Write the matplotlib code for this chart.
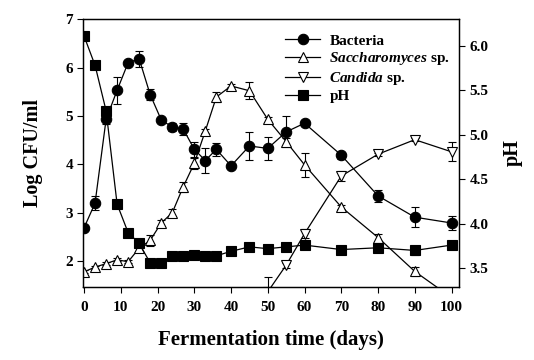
import numpy as np
import matplotlib.pyplot as plt
from matplotlib.lines import Line2D

plt.rcParams['font.family'] = 'Liberation Serif'
plt.rcParams['font.weight'] = 'bold'
plt.rcParams['mathtext.fontset'] = 'custom'
plt.rcParams['mathtext.it'] = 'Liberation Serif:italic:bold'
plt.rcParams['mathtext.rm'] = 'Liberation Serif:bold'

# dias de fermentacion
dias = [0, 3, 6, 9, 12, 15, 18, 21, 24, 27, 30, 33, 36, 40, 45, 50, 55, 60, 70, 80, 90, 100]

# Log CFU/ml
bacterias = [2.69, 3.20, 4.93, 5.53, 6.10, 6.18, 5.44, 4.92, 4.77, 4.73, 4.31, 4.08,
             4.31, 3.97, 4.38, 4.33, 4.67, 4.85, 4.19, 3.35, 2.91, 2.79]
bacterias_err = [0.05, 0.15, 0.1, 0.28, 0.05, 0.16, 0.12, 0.05, 0.08, 0.13, 0.15, 0.26,
                 0.13, 0.05, 0.28, 0.23, 0.32, 0.06, 0.07, 0.12, 0.2, 0.15]

sacch = [1.78, 1.88, 1.95, 2.03, 1.99, 2.27, 2.43, 2.79, 3.00, 3.54, 4.02, 4.69,
         5.39, 5.62, 5.52, 4.93, 4.47, 3.99, 3.12, 2.49, 1.79, 1.25]
sacch_err = [0.03, 0.03, 0.03, 0.03, 0.03, 0.05, 0.12, 0.07, 0.07, 0.1, 0.12, 0.05,
             0.1, 0.03, 0.18, 0.05, 0.07, 0.25, 0.05, 0.07, 0.1, 0.1]

dias_candida = [50, 55, 60, 70, 80, 90, 100]
candida = [1.37, 1.92, 2.57, 3.76, 4.21, 4.51, 4.26]
candida_err = [0.31, 0.05, 0.1, 0.1, 0.03, 0.03, 0.2]

# pH
ph = [6.11, 5.78, 5.27, 4.22, 3.90, 3.78, 3.56, 3.56, 3.64, 3.64, 3.65, 3.64,
      3.64, 3.69, 3.74, 3.72, 3.74, 3.76, 3.71, 3.73, 3.70, 3.76]
ph_err = [0.01, 0.01, 0.01, 0.01, 0.01, 0.01, 0.01, 0.01, 0.01, 0.01, 0.01, 0.01,
          0.01, 0.01, 0.01, 0.01, 0.01, 0.02, 0.01, 0.02, 0.05, 0.01]

fig = plt.figure(figsize=(5.34, 3.6), dpi=100)
ax = fig.add_axes([0.156, 0.203, 0.704, 0.744])

estilo = dict(color='black', lw=0.9, elinewidth=0.8, capsize=3, capthick=0.8, ms=7.5,
              markeredgecolor='black', markeredgewidth=0.8)

ax.errorbar(dias, bacterias, yerr=bacterias_err, marker='o', mfc='black', **estilo)
ax.errorbar(dias, sacch, yerr=sacch_err, marker='^', mfc='white', **estilo)
ax.errorbar(dias_candida, candida, yerr=candida_err, marker='v', mfc='white', **estilo)

ax.set_xlim(-0.2, 102.1)
ax.set_ylim(1.47, 7.0)
ax.set_xticks(np.arange(0, 101, 10))
ax.set_yticks([2, 3, 4, 5, 6, 7])
ax.tick_params(direction='out', length=4, width=0.8, labelsize=11)
ax.tick_params(axis='x', pad=6)
ax.set_xlabel('Fermentation time (days)', fontsize=15, fontweight='bold', labelpad=12)
ax.set_ylabel('Log CFU/ml', fontsize=14.5, fontweight='bold', labelpad=16)

ax2 = ax.twinx()
ax2.errorbar(dias, ph, yerr=ph_err, marker='s', mfc='black', **dict(estilo, ms=7))
ax2.set_ylim(3.29, 6.30)
ax2.set_yticks([3.5, 4.0, 4.5, 5.0, 5.5, 6.0])
ax2.set_yticklabels(['3.5', '4.0', '4.5', '5.0', '5.5', '6.0'])
ax2.tick_params(direction='out', length=4, width=0.8, labelsize=11)
ax2.set_ylabel('pH', fontsize=14.5, fontweight='bold', labelpad=10)

for a in (ax, ax2):
    for s in a.spines.values():
        s.set_linewidth(0.9)

# leyenda sin barras de error
kw = dict(color='black', lw=0.9, ms=7.5, markeredgecolor='black', markeredgewidth=0.8)
handles = [Line2D([], [], marker='o', mfc='black', **kw),
           Line2D([], [], marker='^', mfc='white', **kw),
           Line2D([], [], marker='v', mfc='white', **kw),
           Line2D([], [], marker='s', mfc='black', **dict(kw, ms=7))]
etiquetas = ['Bacteria', '$\\it{Saccharomyces}$ sp.', '$\\it{Candida}$ sp.', 'pH']
ax2.legend(handles, etiquetas, loc='upper left', bbox_to_anchor=(0.537, 0.945),
           frameon=False, fontsize=11, handlelength=2.3, labelspacing=0.18,
           borderpad=0, borderaxespad=0, handletextpad=0.6)

plt.savefig('out.png', dpi=100)
